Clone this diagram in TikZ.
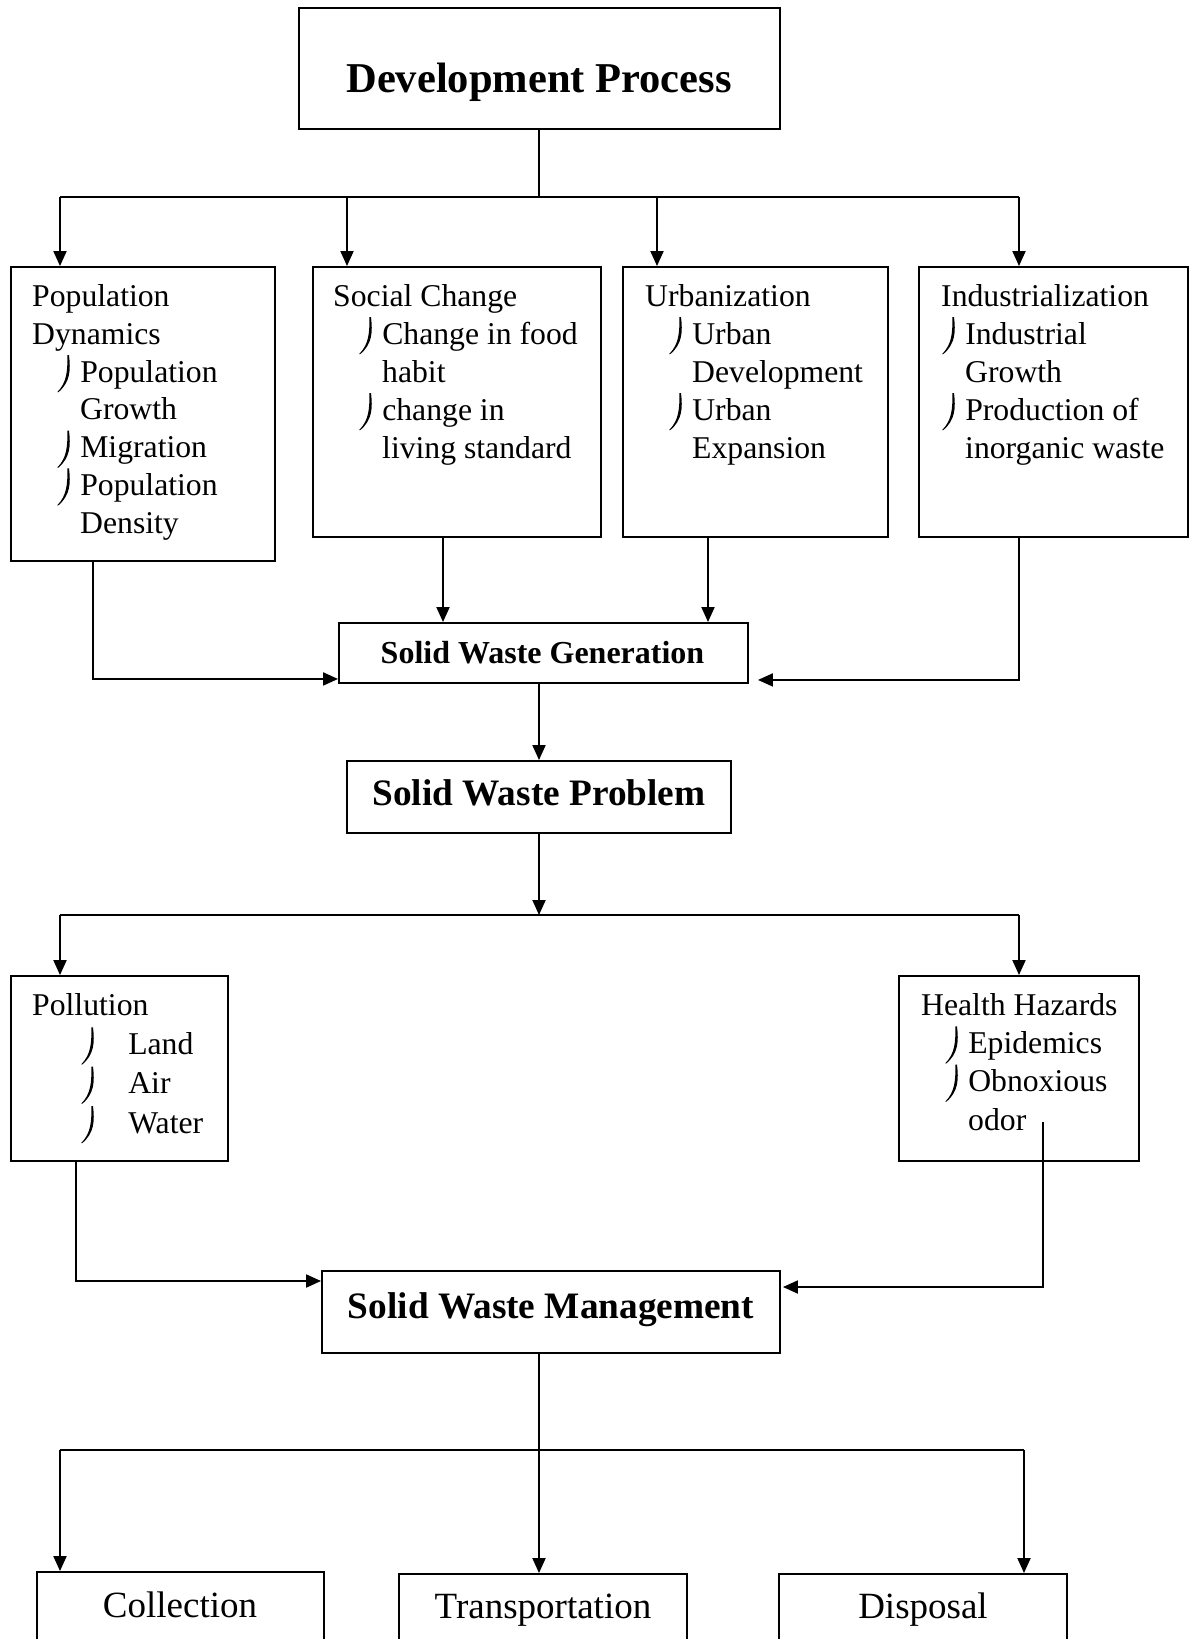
\documentclass[tikz,border=0pt]{standalone}
\usepackage{fontspec}
\setmainfont{Liberation Serif}
\usetikzlibrary{arrows.meta}
\newcommand\jb{\tikz[baseline=0pt,x=1pt,y=1pt]\fill[black] (11.8,27) .. controls (13.6,12) and (13,0) .. (1.2,-10) -- (0,-10) .. controls (10,0) and (10.3,12) .. (10.2,27) -- cycle;\hspace{9.5pt}}
\begin{document}
\begin{tikzpicture}[x=1pt,y=-1pt,line width=1.9pt,
  box/.style={draw,line width=1.9pt,inner sep=0pt,rectangle},
  arr/.style={-{Triangle[length=15pt,width=13pt]}},
  txt/.style={inner sep=0pt,anchor=base west,align=left,font=\fontsize{31.7}{#1}\selectfont},
  ttl/.style={inner sep=0pt,anchor=base,font=\bfseries\fontsize{#1}{#1}\selectfont},
  big/.style={inner sep=0pt,anchor=base,font=\fontsize{37}{40}\selectfont}]
\useasboundingbox (0,0) rectangle (1195,1639);
\clip (0,0) rectangle (1195,1639);
% boxes
\node[box,minimum width=481pt,minimum height=121pt] (dev) at (539.5,68.5) {};
\node[box,minimum width=264pt,minimum height=294pt] (pd) at (143,414) {};
\node[box,minimum width=288pt,minimum height=270pt] (sc) at (457,402) {};
\node[box,minimum width=265pt,minimum height=270pt] (ur) at (755.5,402) {};
\node[box,minimum width=269pt,minimum height=270pt] (in) at (1053.5,402) {};
\node[box,minimum width=409pt,minimum height=60pt] (swg) at (543.5,653) {};
\node[box,minimum width=384pt,minimum height=72pt] (swp) at (539,797) {};
\node[box,minimum width=217pt,minimum height=185pt] (pol) at (119.5,1068.5) {};
\node[box,minimum width=240pt,minimum height=185pt] (hh) at (1019,1068.5) {};
\node[box,minimum width=458pt,minimum height=82pt] (swm) at (551,1312) {};
\node[box,minimum width=287pt,minimum height=128pt] (col) at (180.5,1636) {};
\node[box,minimum width=288pt,minimum height=128pt] (tra) at (543,1638) {};
\node[box,minimum width=288pt,minimum height=128pt] (dis) at (923,1638) {};
% texts
\node[ttl=42.5] (devt) at (539,92) {Development Process};
\node[ttl=32] (swgt) at (542.5,663) {Solid Waste Generation};
\node[ttl=37.3] (swpt) at (539,805) {Solid Waste Problem};
\node[ttl=37.3] (swmt) at (551,1318) {Solid Waste Management};
\node[big] (colt) at (180,1617) {Collection};
\node[big] (trat) at (543,1618) {Transportation};
\node[big] (dist) at (923,1618) {Disposal};
\node[txt=37.7] (pdt) at (32,533) {Population\\Dynamics\\\hspace*{25pt}\jb Population\\\hspace*{48pt}Growth\\\hspace*{25pt}\jb Migration\\\hspace*{25pt}\jb Population\\\hspace*{48pt}Density};
\node[txt=38] (sct) at (333,458) {Social Change\\\hspace*{26pt}\jb Change in food\\\hspace*{49pt}habit\\\hspace*{26pt}\jb change in\\\hspace*{49pt}living standard};
\node[txt=38] (urt) at (645,458) {Urbanization\\\hspace*{24pt}\jb Urban\\\hspace*{47pt}Development\\\hspace*{24pt}\jb Urban\\\hspace*{47pt}Expansion};
\node[txt=38] (int) at (941,458) {Industrialization\\\hspace*{1pt}\jb Industrial\\\hspace*{24pt}Growth\\\hspace*{1pt}\jb Production of\\\hspace*{24pt}inorganic waste};
\node[txt=39.3] (polt) at (32,1133) {Pollution\\\hspace*{49pt}\jb\hspace{24pt}Land\\\hspace*{49pt}\jb\hspace{24pt}Air\\\hspace*{49pt}\jb\hspace{24pt}Water};
\node[txt=38.3] (hht) at (921,1130) {Health Hazards\\\hspace*{24pt}\jb Epidemics\\\hspace*{24pt}\jb Obnoxious\\\hspace*{47pt}odor};
% connectors top
\coordinate (t1) at (60,197);
\coordinate (t2) at (347,197);
\coordinate (t3) at (657,197);
\coordinate (t4) at (1019,197);
\draw (dev.south -| swp.north) -- (swp.north |- t1);
\draw (t1) -- (t4);
\draw[arr] (t1) -- (t1 |- pd.north);
\draw[arr] (t2) -- (t2 |- sc.north);
\draw[arr] (t3) -- (t3 |- ur.north);
\draw[arr] (t4) -- (t4 |- in.north);
% to generation
\path (pd.south) ++(-50,0) coordinate (p1);
\path (sc.south) ++(-14,0) coordinate (s1);
\path (ur.south) ++(-47.5,0) coordinate (u1);
\path (in.south) ++(-34.5,0) coordinate (i1);
\path (swg.south west) ++(0,-5) coordinate (g1);
\path (swg.south east) ++(9,-4) coordinate (g2);
\draw[arr] (p1) |- (g1);
\draw[arr] (s1) -- (s1 |- swg.north);
\draw[arr] (u1) -- (u1 |- swg.north);
\draw[arr] (i1) |- (g2);
\draw[arr] (swg.south -| swp.north) -- (swp.north);
% problem split
\coordinate (b1) at (60,915);
\coordinate (b2) at (1019,915);
\draw (b1) -- (b2);
\draw[arr] (swp.south) -- (swp.south |- b1);
\draw[arr] (b1) -- (b1 |- pol.north);
\draw[arr] (b2) -- (b2 |- hh.north);
% to management
\path (pol.south west) ++(66,0) coordinate (p2);
\path (swm.west) ++(0,-31) coordinate (q1);
\coordinate (h0) at (1043,1122);
\path (swm.east) ++(2,-25) coordinate (q2);
\draw[arr] (p2) |- (q1);
\draw[arr] (h0) |- (q2);
% bottom split
\coordinate (c1) at (60,1450);
\coordinate (c2) at (539,1450);
\coordinate (c3) at (1024,1450);
\draw (swm.south -| c2) -- (c2);
\draw (c1) -- (c3);
\draw[arr] (c1) -- (c1 |- col.north);
\draw[arr] (c2) -- (c2 |- tra.north);
\draw[arr] (c3) -- (c3 |- dis.north);
\end{tikzpicture}
\end{document}
